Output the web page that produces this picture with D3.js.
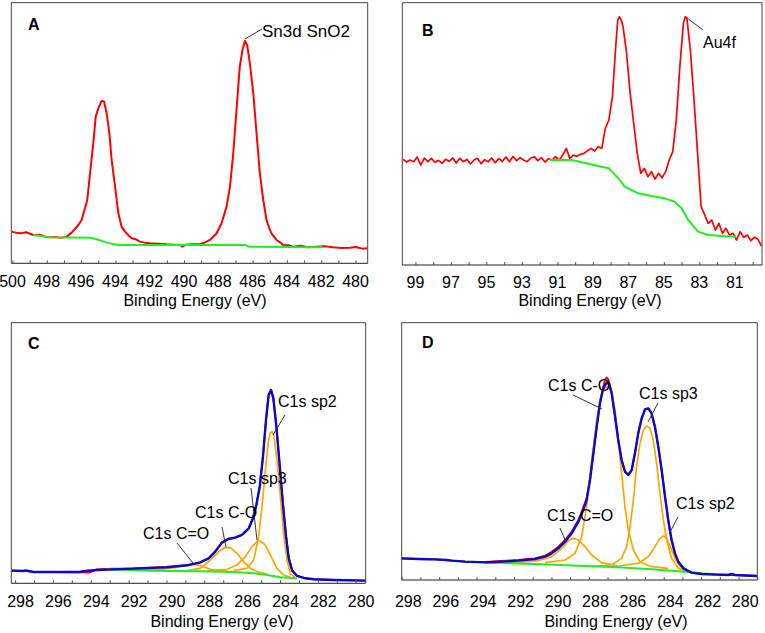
<!DOCTYPE html>
<html>
<head>
<meta charset="utf-8">
<script src="https://cdn.jsdelivr.net/npm/d3@7"></script>
<style>
  body { margin: 0; background: #fff; }
  svg { display: block; font-family: "Liberation Sans", Arial, sans-serif; }
  .frame { fill: none; stroke: #444; stroke-width: 1; }
  .tick-mark { stroke: #555; stroke-width: 1; }
  .tick-label { font-size: 16px; fill: #000; text-anchor: middle; }
  .axis-title { font-size: 16px; fill: #000; text-anchor: middle; }
  .panel-letter { font-size: 16px; font-weight: bold; fill: #000; }
  .note { fill: #000; }
  .leader { stroke: #333; stroke-width: 1; }
  .trace { fill: none; stroke-linejoin: round; }
</style>
</head>
<body>
<div id="chart"></div>
<script>
// ---- data: [binding energy (eV), intensity (a.u.)] ----

// A: Sn3d
const aRed = [
  [500.07, 9.5], [499.8, 9.2], [499.5, 9.0], [499.2, 9.3], [498.79, 8.5], [498.4, 8.6],
  [498.1, 8.0], [497.81, 7.8], [497.5, 7.9], [497.2, 7.7], [496.84, 8.0], [496.55, 9.2],
  [496.16, 11.5], [495.97, 13.0], [495.64, 19.0], [495.48, 27.0], [495.29, 36.0],
  [495.15, 44.0], [495.0, 46.5], [494.8, 48.8], [494.66, 48.5], [494.51, 45.0],
  [494.35, 39.0], [494.22, 31.0], [494.02, 23.0], [493.83, 15.0], [493.64, 11.0],
  [493.44, 9.5], [493.2, 8.2], [493.05, 7.5], [492.8, 7.2], [492.57, 6.5], [492.3, 6.2],
  [491.98, 6.0], [491.5, 5.9], [491.01, 5.7], [490.6, 5.6], [490.23, 5.5], [490.1, 5.0],
  [489.9, 5.6], [489.5, 5.7], [489.07, 5.8], [488.8, 6.2], [488.49, 7.0], [488.1, 9.0],
  [487.81, 12.0], [487.52, 17.0], [487.32, 23.0], [487.13, 33.0], [486.94, 46.0],
  [486.75, 59.0], [486.59, 64.0], [486.45, 66.8], [486.32, 65.5], [486.16, 60.0],
  [485.96, 51.0], [485.77, 39.0], [485.58, 27.0], [485.38, 19.0], [485.19, 13.0],
  [485.0, 10.2], [484.9, 9.0], [484.61, 7.0], [484.4, 6.3], [484.22, 5.5], [483.9, 5.4],
  [483.64, 5.0], [483.2, 5.3], [482.8, 4.8], [482.28, 5.0], [481.8, 5.1], [481.31, 4.8],
  [480.8, 4.6], [480.33, 4.7], [480.0, 4.9], [479.6, 4.4], [479.3, 4.5]
];
const aGreen = [
  [498.79, 8.5], [497.81, 7.8], [495.48, 7.7], [495.09, 7.2], [494.51, 6.2],
  [493.83, 5.5], [486.43, 5.5], [486.23, 5.0], [481.95, 4.8]
];

// B: Au4f
const bRed = [
  [99.7, 31.7], [99.5, 30.9], [99.3, 31.5], [99.1, 31.0], [98.9, 32.4], [98.7, 30.0],
  [98.5, 32.1], [98.3, 31.0], [98.1, 32.0], [97.9, 30.8], [97.7, 31.4], [97.5, 30.5],
  [97.3, 31.7], [97.1, 31.1], [96.9, 32.1], [96.7, 30.6], [96.5, 32.0], [96.3, 31.0],
  [96.1, 31.7], [95.9, 30.3], [95.7, 31.5], [95.5, 32.0], [95.3, 30.4], [95.1, 31.6],
  [94.9, 31.0], [94.7, 32.1], [94.5, 30.7], [94.3, 31.9], [94.1, 31.1], [93.9, 32.4],
  [93.7, 31.0], [93.5, 32.6], [93.3, 31.3], [93.1, 32.2], [92.9, 31.5], [92.7, 31.0],
  [92.5, 32.1], [92.3, 32.5], [92.1, 31.3], [91.9, 32.2], [91.7, 30.9], [91.5, 31.9],
  [91.3, 31.5], [91.1, 32.5], [90.9, 31.4], [90.7, 33.0], [90.5, 35.0], [90.3, 32.0],
  [90.1, 33.0], [89.9, 32.6], [89.7, 33.2], [89.5, 33.5], [89.3, 34.3], [89.1, 35.0],
  [88.9, 34.2], [88.7, 35.5], [88.5, 35.0], [88.3, 41.0], [88.1, 43.5], [87.9, 50.5],
  [87.7, 66.5], [87.6, 73.5], [87.5, 74.5], [87.4, 73.5], [87.3, 71.5], [87.1, 63.5],
  [86.9, 51.5], [86.7, 42.5], [86.5, 33.5], [86.3, 27.5], [86.1, 29.0], [85.9, 26.5],
  [85.7, 28.0], [85.5, 25.8], [85.3, 27.5], [85.1, 26.2], [84.9, 28.0], [84.7, 31.5],
  [84.5, 34.0], [84.3, 43.5], [84.1, 59.5], [83.9, 72.5], [83.8, 74.5], [83.7, 74.0],
  [83.5, 64.0], [83.3, 49.5], [83.1, 33.5], [82.9, 17.5], [82.7, 15.0], [82.5, 12.5],
  [82.3, 13.5], [82.1, 10.5], [81.9, 12.5], [81.7, 9.5], [81.5, 11.0], [81.3, 9.0],
  [81.1, 9.5], [80.9, 7.5], [80.7, 10.0], [80.5, 8.3], [80.3, 9.0], [80.1, 7.3],
  [79.9, 8.3], [79.7, 7.7], [79.5, 5.7]
];
const bGreen = [
  [91.42, 31.5], [90.2, 31.5], [88.5, 29.5], [88.1, 29.0], [87.57, 26.0], [87.2, 23.5],
  [86.45, 21.5], [85.7, 20.7], [84.95, 20.0], [84.4, 19.0], [84.0, 17.0], [83.63, 13.5],
  [83.07, 10.0], [82.5, 9.0], [81.75, 8.7], [80.9, 8.5]
];

// C: C1s (first sample)
const cBlue = [
  [298.19, 3.8], [297.56, 3.7], [297.45, 3.9], [297.03, 3.4], [294.56, 3.4], [294.45, 3.6],
  [293.68, 4.0], [291.74, 4.4], [289.98, 4.8], [288.92, 5.4], [288.21, 6.3], [287.77, 7.5],
  [287.42, 9.5], [287.07, 12.2], [286.71, 13.3], [286.36, 13.7], [286.01, 14.5],
  [285.65, 16.5], [285.43, 19.5], [285.25, 23.5], [285.07, 29.0], [284.9, 38.0],
  [284.74, 49.0], [284.6, 56.5], [284.47, 58.0], [284.35, 55.5], [284.19, 47.0],
  [284.01, 35.0], [283.84, 23.5], [283.68, 14.0], [283.54, 7.5], [283.36, 3.8],
  [283.1, 2.2], [282.66, 1.5], [282.21, 1.2], [281.16, 1.0], [279.39, 0.8]
];
const cRed = [
  [298.19, 3.8], [297.56, 3.7], [297.03, 3.4], [294.56, 3.3], [294.1, 3.2], [293.68, 4.2],
  [292.9, 4.4], [291.74, 4.5], [289.98, 4.9], [288.92, 5.4], [288.21, 6.3], [287.77, 7.5],
  [287.42, 9.6], [287.07, 12.3], [286.71, 13.5], [286.36, 13.8], [286.01, 14.5],
  [285.65, 16.5], [285.43, 19.5], [285.25, 23.5], [285.07, 29.0], [284.9, 38.0],
  [284.74, 49.0], [284.6, 56.5], [284.47, 58.0], [284.35, 55.5], [284.19, 47.0],
  [284.01, 35.0], [283.84, 23.5], [283.68, 14.2], [283.54, 7.8], [283.36, 4.0],
  [283.1, 2.3], [282.66, 1.5], [282.21, 1.2], [281.16, 1.0], [279.39, 0.8]
];
const cGreen = [
  [293.15, 4.2], [290.86, 3.8], [288.21, 3.6], [286.45, 3.4], [285.39, 3.0],
  [284.68, 2.5], [283.98, 1.8], [283.1, 1.5]
];
const cSp2 = [
  [286.45, 3.8], [285.74, 4.5], [285.39, 7.0], [285.13, 14.0], [284.95, 23.0],
  [284.77, 34.0], [284.63, 42.0], [284.51, 45.2], [284.42, 45.5], [284.33, 44.5],
  [284.16, 37.0], [283.98, 26.0], [283.81, 15.0], [283.63, 7.0], [283.45, 2.8], [283.19, 1.7]
];
const cSp3 = [
  [287.86, 3.8], [286.8, 4.2], [286.27, 5.5], [285.83, 8.0], [285.48, 11.0], [285.21, 12.5],
  [285.04, 12.7], [284.77, 11.5], [284.51, 8.5], [284.16, 4.5], [283.81, 2.5], [283.45, 1.8]
];
const cCO = [
  [288.92, 3.8], [288.21, 4.5], [287.68, 7.0], [287.24, 9.5], [286.89, 10.8], [286.62, 10.7],
  [286.27, 9.0], [285.92, 6.5], [285.57, 4.5], [285.13, 3.3], [284.68, 2.8]
];
const cCdO = [
  [293.15, 4.2], [291.74, 4.0], [290.33, 4.2], [289.45, 4.8], [288.92, 5.5], [288.56, 5.7],
  [288.21, 5.3], [287.68, 4.2], [287.15, 3.7], [286.45, 3.4]
];

// D: C1s (second sample)
const dBlue = [
  [298.04, 6.5], [297.11, 6.3], [296.22, 6.2], [295.6, 6.0], [295.33, 5.8], [294.62, 5.5],
  [293.55, 5.3], [292.66, 5.5], [291.77, 5.8], [290.88, 6.3], [290.34, 7.0], [289.99, 8.0],
  [289.63, 9.5], [289.27, 11.5], [288.92, 14.0], [288.56, 17.5], [288.3, 21.0],
  [288.12, 24.0], [287.94, 30.0], [287.76, 38.0], [287.58, 46.0], [287.41, 53.0],
  [287.23, 57.5], [287.05, 59.2], [286.92, 59.0], [286.78, 56.0], [286.6, 49.0],
  [286.43, 42.0], [286.25, 36.0], [286.07, 32.5], [285.89, 31.5], [285.71, 33.0],
  [285.54, 38.0], [285.36, 44.0], [285.18, 48.5], [285.0, 51.2], [284.82, 51.5],
  [284.65, 50.0], [284.47, 46.0], [284.29, 40.0], [284.11, 33.0], [283.93, 25.0],
  [283.76, 18.0], [283.58, 12.0], [283.4, 8.0], [283.22, 5.5], [282.95, 3.5],
  [282.51, 2.2], [281.97, 1.8], [281.08, 1.6], [280.55, 1.5], [280.37, 1.8],
  [280.19, 1.5], [279.0, 1.2]
];
const dRed = [
  [298.04, 6.5], [297.11, 6.3], [296.22, 6.2], [295.33, 5.8], [294.62, 5.5], [293.55, 5.4],
  [292.66, 5.7], [291.77, 6.0], [290.88, 6.5], [290.34, 7.3], [289.99, 8.5], [289.63, 10.0],
  [289.27, 12.0], [288.92, 14.5], [288.56, 18.0], [288.3, 21.8], [288.12, 24.5],
  [287.94, 30.0], [287.76, 38.0], [287.58, 46.0], [287.41, 53.0], [287.23, 58.0],
  [287.14, 60.0], [287.05, 60.8], [286.96, 60.2], [286.78, 56.0], [286.6, 49.0],
  [286.43, 42.0], [286.25, 36.0], [286.07, 32.5], [285.89, 31.5], [285.71, 33.0],
  [285.54, 38.0], [285.36, 44.0], [285.18, 48.5], [285.0, 51.2], [284.82, 51.5],
  [284.65, 50.0], [284.47, 46.0], [284.29, 40.0], [284.11, 33.0], [283.93, 25.0],
  [283.76, 18.0], [283.58, 12.0], [283.4, 8.0], [283.22, 5.5], [282.95, 3.5],
  [282.51, 2.2], [281.97, 1.8], [281.08, 1.6], [280.19, 1.5], [279.0, 1.2]
];
const dGreen = [
  [293.55, 5.2], [290.88, 4.8], [288.21, 4.2], [286.43, 3.8], [284.65, 3.2],
  [282.86, 2.5], [281.97, 2.0], [281.44, 1.8]
];
const dCdO = [
  [293.55, 5.2], [291.77, 5.3], [290.7, 5.8], [289.99, 7.0], [289.45, 9.5], [289.1, 11.8],
  [288.83, 12.5], [288.56, 12.0], [288.21, 10.0], [287.85, 7.5], [287.32, 5.2], [286.43, 4.2]
];
const dCO = [
  [290.34, 5.2], [289.27, 6.0], [288.74, 8.0], [288.38, 13.0], [288.12, 22.0], [287.85, 36.0],
  [287.58, 48.0], [287.32, 56.0], [287.14, 57.7], [286.96, 58.0], [286.78, 56.5],
  [286.6, 51.0], [286.43, 42.0], [286.25, 32.0], [286.07, 22.0], [285.89, 15.0],
  [285.62, 9.0], [285.27, 5.5], [284.65, 4.0], [283.76, 3.5]
];
const dSp3 = [
  [287.85, 4.2], [286.78, 4.5], [286.25, 6.5], [285.98, 10.0], [285.8, 16.0], [285.62, 24.0],
  [285.45, 34.0], [285.27, 41.0], [285.09, 45.0], [284.91, 46.2], [284.73, 45.5],
  [284.56, 42.0], [284.38, 35.0], [284.2, 26.0], [284.02, 18.0], [283.84, 12.0],
  [283.58, 6.5], [283.22, 3.5], [282.51, 2.3]
];
const dSp2 = [
  [286.43, 4.2], [285.36, 5.0], [284.82, 7.0], [284.47, 10.0], [284.2, 12.5], [284.02, 13.2],
  [283.84, 12.5], [283.58, 9.0], [283.31, 5.5], [282.95, 3.0], [282.33, 2.0]
];

// ---- axis ticks ----
const aTicks = [500, 499, 498, 497, 496, 495, 494, 493, 492, 491, 490, 489, 488, 487, 486, 485, 484, 483, 482, 481, 480];
const aLabels = [500, 498, 496, 494, 492, 490, 488, 486, 484, 482, 480];
const bTicks = [99, 98, 97, 96, 95, 94, 93, 92, 91, 90, 89, 88, 87, 86, 85, 84, 83, 82, 81, 80];
const bLabels = [99, 97, 95, 93, 91, 89, 87, 85, 83, 81];
const cTicks = [298, 297, 296, 295, 294, 293, 292, 291, 290, 289, 288, 287, 286, 285, 284, 283, 282, 281, 280];
const cLabels = [298, 296, 294, 292, 290, 288, 286, 284, 282, 280];
const dTicks = [298, 297, 296, 295, 294, 293, 292, 291, 290, 289, 288, 287, 286, 285, 284, 283, 282, 281, 280, 279];
const dLabels = cLabels;

const colors = { red: '#ff0000', green: '#22ee22', blue: '#0a0acc', orange: '#ffa500' };

// ---- layout ----
const width = 765;
const height = 633;

const panels = [
  {
    letter: 'A', lx: 28, ly: 30,
    left: 11.3, right: 367.7, top: 2.7, bottom: 263.3,
    eDomain: [500.07, 479.29], iMax: 78.2,
    ticks: aTicks, labels: aLabels, labelDx: 0, labelY: 287, titleX: 195, titleY: 306,
    traces: [
      { data: aRed, color: colors.red, w: 2 },
      { data: aGreen, color: colors.green, w: 2 },
    ],
    notes: [
      { text: 'Sn3d SnO2', x: 262, y: 37, size: 17, line: [245, 39, 262, 29] },
    ],
  },
  {
    letter: 'B', lx: 422, ly: 36,
    left: 402.3, right: 762, top: 2.7, bottom: 265,
    eDomain: [99.74, 79.47], iMax: 78.7,
    ticks: bTicks, labels: bLabels, labelDx: 0, labelY: 288, titleX: 590, titleY: 306,
    traces: [
      { data: bRed, color: colors.red, w: 1.7 },
      { data: bGreen, color: colors.green, w: 2 },
    ],
    notes: [
      { text: 'Au4f', x: 703, y: 48, size: 16, line: [687, 18, 703, 30] },
    ],
  },
  {
    letter: 'C', lx: 28, ly: 349,
    left: 11.3, right: 365.7, top: 322.7, bottom: 583.3,
    eDomain: [298.2, 279.47], iMax: 78.2,
    ticks: cTicks, labels: cLabels, labelDx: 5.5, labelY: 607, titleX: 222, titleY: 627,
    traces: [
      { data: cRed, color: colors.red, w: 1.8 },
      { data: cCdO, color: colors.orange, w: 1.7 },
      { data: cCO, color: colors.orange, w: 1.7 },
      { data: cSp3, color: colors.orange, w: 1.7 },
      { data: cSp2, color: colors.orange, w: 1.7 },
      { data: cGreen, color: colors.green, w: 2 },
      { data: cBlue, color: colors.blue, w: 2.4 },
    ],
    notes: [
      { text: 'C1s sp2', x: 278, y: 407, size: 16, line: [285, 415, 273, 435] },
      { text: 'C1s sp3', x: 228, y: 484, size: 16, line: [251, 488, 257, 540] },
      { text: 'C1s C-O', x: 195, y: 518, size: 16, line: [222, 527, 226, 547] },
      { text: 'C1s C=O', x: 143, y: 539, size: 16, line: [177, 543, 193, 563] },
    ],
  },
  {
    letter: 'D', lx: 422, ly: 348,
    left: 401.7, right: 757.3, top: 322.7, bottom: 580,
    eDomain: [298, 279.0], iMax: 77.2,
    ticks: dTicks, labels: dLabels, labelDx: 6.6, labelY: 607, titleX: 616, titleY: 627,
    traces: [
      { data: dRed, color: colors.red, w: 1.8 },
      { data: dCdO, color: colors.orange, w: 1.7 },
      { data: dCO, color: colors.orange, w: 1.7 },
      { data: dSp3, color: colors.orange, w: 1.7 },
      { data: dSp2, color: colors.orange, w: 1.7 },
      { data: dGreen, color: colors.green, w: 2 },
      { data: dBlue, color: colors.blue, w: 2.4 },
    ],
    notes: [
      { text: 'C1s C-O', x: 548, y: 391, size: 16, line: [573, 395, 602, 409] },
      { text: 'C1s sp3', x: 639, y: 399, size: 16, line: [658, 403, 648, 422] },
      { text: 'C1s sp2', x: 676, y: 509, size: 16, line: [678, 517, 669, 534] },
      { text: 'C1s C=O', x: 547, y: 521, size: 16, line: [560, 528, 566, 542] },
    ],
  },
];

const svg = d3.select('#chart')
  .append('svg')
  .attr('width', width)
  .attr('height', height);

panels.forEach((p, idx) => {
  const x = d3.scaleLinear().domain(p.eDomain).range([p.left, p.right]);
  const y = d3.scaleLinear().domain([0, p.iMax]).range([p.bottom, p.top]);
  const g = svg.append('g').attr('class', `panel-${p.letter}`);

  const clipId = `clip-${idx}`;
  svg.append('clipPath')
    .attr('id', clipId)
    .append('rect')
    .attr('x', p.left)
    .attr('y', p.top)
    .attr('width', p.right - p.left)
    .attr('height', p.bottom - p.top);

  const line = d3.line()
    .x(d => x(d[0]))
    .y(d => y(d[1]));

  g.append('g')
    .attr('clip-path', `url(#${clipId})`)
    .selectAll('path')
    .data(p.traces)
    .enter()
    .append('path')
    .attr('class', 'trace')
    .attr('d', d => line(d.data))
    .attr('stroke', d => d.color)
    .attr('stroke-width', d => d.w);

  // frame: top, right and left edges in grey
  g.append('path')
    .attr('class', 'frame')
    .attr('d', `M${p.left},${p.bottom}V${p.top}H${p.right}V${p.bottom}`);

  // bottom axis: small inward ticks every 1 eV, labels on a sparser set
  const axis = d3.axisBottom(x)
    .tickValues(p.ticks)
    .tickSize(0)
    .tickFormat('');
  const ax = g.append('g')
    .attr('transform', `translate(0,${p.bottom})`)
    .call(axis);
  ax.select('.domain')
    .attr('d', `M${p.left},0H${p.right}`)
    .attr('stroke', '#222');
  ax.selectAll('.tick line')
    .attr('class', 'tick-mark')
    .attr('y2', -3);

  g.selectAll('.tick-label')
    .data(p.labels)
    .enter()
    .append('text')
    .attr('class', 'tick-label')
    .attr('x', d => x(d) + p.labelDx)
    .attr('y', p.labelY)
    .text(d => d);

  g.append('text')
    .attr('class', 'axis-title')
    .attr('x', p.titleX)
    .attr('y', p.titleY)
    .text('Binding Energy (eV)');

  g.append('text')
    .attr('class', 'panel-letter')
    .attr('x', p.lx)
    .attr('y', p.ly)
    .text(p.letter);

  g.selectAll('.leader')
    .data(p.notes)
    .enter()
    .append('line')
    .attr('class', 'leader')
    .attr('x1', d => d.line[0])
    .attr('y1', d => d.line[1])
    .attr('x2', d => d.line[2])
    .attr('y2', d => d.line[3]);

  g.selectAll('.note')
    .data(p.notes)
    .enter()
    .append('text')
    .attr('class', 'note')
    .attr('x', d => d.x)
    .attr('y', d => d.y)
    .attr('font-size', d => d.size)
    .text(d => d.text);
});
</script>
</body>
</html>
